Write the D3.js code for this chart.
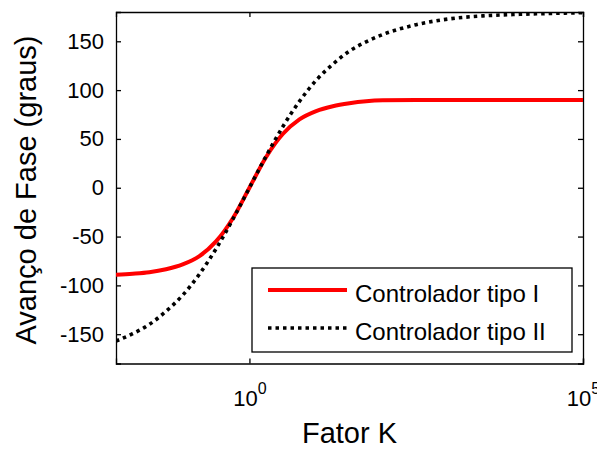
<!DOCTYPE html>
<html>
<head>
<meta charset="utf-8">
<script src="https://cdn.jsdelivr.net/npm/d3@7"></script>
<style>
  body { margin: 0; background: #fff; }
  svg text { font-family: "Liberation Sans", Arial, sans-serif; fill: #000; }
</style>
</head>
<body>
<div id="chart"></div>
<script>
// values
var fatorK = [0.01, 0.0178, 0.0316, 0.0562, 0.1, 0.178, 0.316, 0.562, 1, 1.78, 3.16, 5.62,
              10, 17.8, 31.6, 56.2, 100, 316, 1000, 3160, 10000, 31600, 100000];
var tipoI  = [-89, -88, -86.5, -83.5, -78.5, -70, -55, -31.5, 0, 31.5, 55, 70,
              78.5, 83.5, 86.5, 88.5, 89.5, 90, 90, 90, 90, 90, 90];
var tipoII = [-157, -149.5, -140, -126.5, -110, -88.5, -62.5, -32.5, 0, 32.5, 62.5, 88.5,
              110, 126.5, 140, 149.5, 157, 167, 173, 176, 177.5, 178.5, 179.3];
var yTicks = [-150, -100, -50, 0, 50, 100, 150];
var xTicks = [1, 100000];
var seriesNames = ["Controlador tipo I", "Controlador tipo II"];

(function() {
var width = 597, height = 450;
var mLeft = 116, mRight = 583, mTop = 12, mBottom = 363.5;

var svg = d3.select("#chart").append("svg")
  .attr("width", width)
  .attr("height", height);

var x = d3.scaleLog().domain([0.01, 100000]).range([mLeft, mRight]);
var y = d3.scaleLinear().domain([-180, 180]).range([mBottom, mTop]);

svg.append("defs").append("clipPath").attr("id", "clip")
  .append("rect").attr("x", mLeft).attr("y", mTop)
  .attr("width", mRight - mLeft).attr("height", mBottom - mTop);

// axes, ticks pointing inward like matlab
var gLeft = svg.append("g").attr("transform", "translate(" + mLeft + ",0)")
  .call(d3.axisLeft(y).tickValues(yTicks).tickSize(-5).tickPadding(12)
    .tickFormat(function(d) { return String(d); }));  // plain hyphen minus
var gRight = svg.append("g").attr("transform", "translate(" + mRight + ",0)")
  .call(d3.axisRight(y).tickValues(yTicks).tickSize(-5).tickFormat(""));
var gBottom = svg.append("g").attr("transform", "translate(0," + mBottom + ")")
  .call(d3.axisBottom(x).tickValues(xTicks).tickSize(-5).tickFormat(""));
var gTop = svg.append("g").attr("transform", "translate(0," + mTop + ")")
  .call(d3.axisTop(x).tickValues(xTicks).tickSize(-5).tickFormat(""));

[gLeft, gRight, gBottom, gTop].forEach(function(g) {
  g.attr("font-size", null).attr("font-family", null);
  g.select(".domain").attr("stroke", "#000").attr("stroke-width", 1.3);
  g.selectAll(".tick line").attr("stroke", "#000").attr("stroke-width", 1.3);
});
gLeft.selectAll(".tick text").style("font-size", "22px");

// log tick labels 10^n
var xl = gBottom.selectAll(".tick").append("text")
  .attr("y", 42.5)
  .attr("text-anchor", "middle")
  .style("font-size", "22px");
xl.append("tspan").text("10");
xl.append("tspan").attr("dy", -12).style("font-size", "16px")
  .text(function(d) { return Math.round(Math.log10(d)); });

// lines
var line = d3.line()
  .x(function(d) { return x(d[0]); })
  .y(function(d) { return y(d[1]); })
  .curve(d3.curveMonotoneX);

var plot = svg.append("g").attr("clip-path", "url(#clip)");
plot.append("path")
  .datum(d3.zip(fatorK, tipoI))
  .attr("fill", "none")
  .attr("stroke", "#ff0000")
  .attr("stroke-width", 4)
  .attr("d", line);
plot.append("path")
  .datum(d3.zip(fatorK, tipoII))
  .attr("fill", "none")
  .attr("stroke", "#000")
  .attr("stroke-width", 3.6)
  .attr("stroke-dasharray", "3.5,4")
  .attr("d", line);

// legend
var lg = svg.append("g");
lg.append("rect")
  .attr("x", 252).attr("y", 268).attr("width", 320).attr("height", 84)
  .attr("fill", "#fff").attr("stroke", "#000").attr("stroke-width", 1.3);
lg.append("line").attr("x1", 268).attr("x2", 347).attr("y1", 290).attr("y2", 290)
  .attr("stroke", "#ff0000").attr("stroke-width", 4);
lg.append("line").attr("x1", 268).attr("x2", 347).attr("y1", 328).attr("y2", 328)
  .attr("stroke", "#000").attr("stroke-width", 3.6).attr("stroke-dasharray", "3.5,4");
lg.selectAll("text.lab").data(seriesNames).enter().append("text")
  .attr("class", "lab")
  .attr("x", 355)
  .attr("y", function(d, i) { return 302 + i * 38; })
  .style("font-size", "24px")
  .text(function(d) { return d; });

// axis titles
svg.append("text")
  .attr("x", 349.5).attr("y", 443)
  .attr("text-anchor", "middle")
  .style("font-size", "29px")
  .text("Fator K");
svg.append("text")
  .attr("transform", "translate(36,190) rotate(-90)")
  .attr("text-anchor", "middle")
  .style("font-size", "29px")
  .text("Avanço de Fase (graus)");
})();
</script>
</body>
</html>
